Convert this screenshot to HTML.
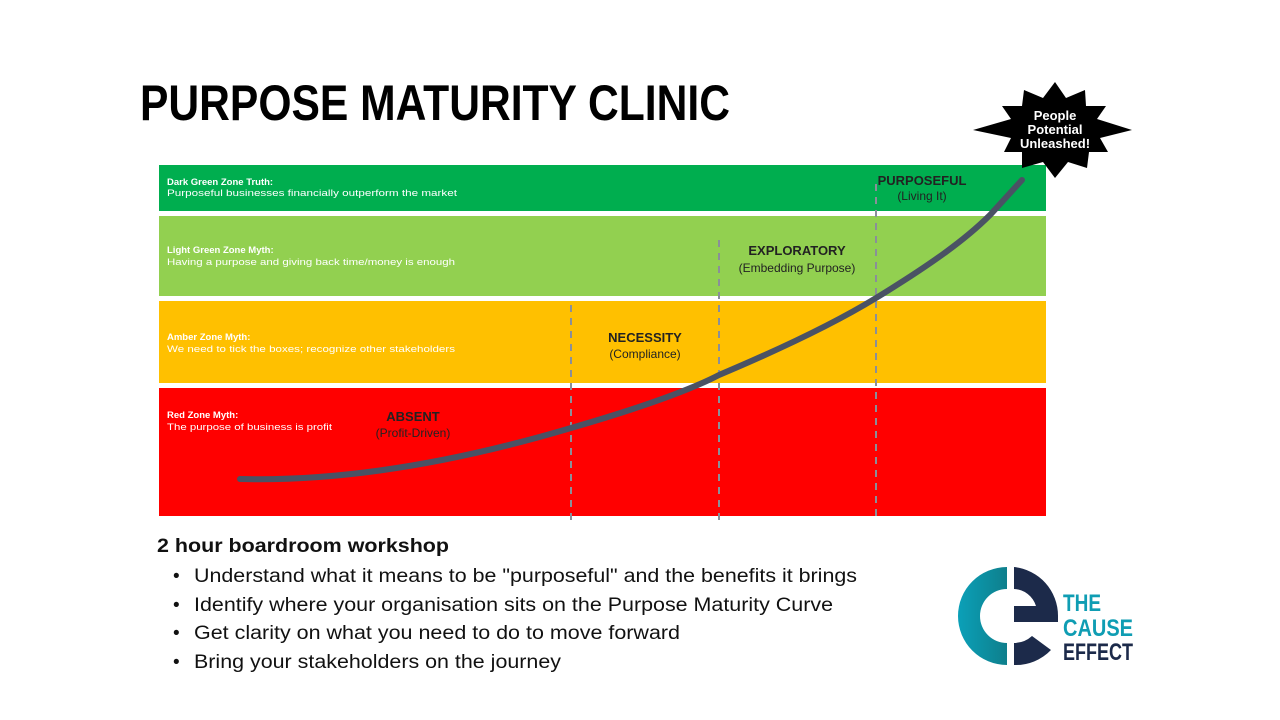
<!DOCTYPE html>
<html><head><meta charset="utf-8"><style>
html,body{margin:0;padding:0;background:#fff;}
body{width:1280px;height:720px;overflow:hidden;position:relative;font-family:"Liberation Sans",sans-serif;}
</style></head><body>
<svg width="1280" height="720" viewBox="0 0 1280 720" xmlns="http://www.w3.org/2000/svg" style="position:absolute;left:0;top:0">
<text x="140" y="120" font-family="Liberation Sans" font-weight="bold" font-size="50" fill="#000" textLength="590" lengthAdjust="spacingAndGlyphs">PURPOSE MATURITY CLINIC</text>
<rect x="159" y="165" width="887" height="46" fill="#00ae4f"/>
<rect x="159" y="216" width="887" height="80" fill="#92d050"/>
<rect x="159" y="301" width="887" height="82" fill="#ffc000"/>
<rect x="159" y="388" width="887" height="128" fill="#ff0000"/>
<g font-family="Liberation Sans" font-size="9.5" fill="#fff">
<text x="167" y="185" font-weight="bold">Dark Green Zone Truth:</text>
<text x="167" y="196" textLength="290" lengthAdjust="spacingAndGlyphs">Purposeful businesses financially outperform the market</text>
<text x="167" y="253" font-weight="bold">Light Green Zone Myth:</text>
<text x="167" y="265" textLength="288" lengthAdjust="spacingAndGlyphs">Having a purpose and giving back time/money is enough</text>
<text x="167" y="340" font-weight="bold">Amber Zone Myth:</text>
<text x="167" y="352" textLength="288" lengthAdjust="spacingAndGlyphs">We need to tick the boxes; recognize other stakeholders</text>
<text x="167" y="418" font-weight="bold">Red Zone Myth:</text>
<text x="167" y="430" textLength="165" lengthAdjust="spacingAndGlyphs">The purpose of business is profit</text>
</g>
<g stroke="#8a8f99" stroke-width="2" stroke-dasharray="7,6">
<line x1="571" y1="305" x2="571" y2="522"/>
<line x1="719" y1="240" x2="719" y2="520"/>
<line x1="876" y1="184" x2="876" y2="518"/>
</g>
<g font-family="Liberation Sans" text-anchor="middle" fill="#222">
<text x="413" y="421" font-size="13" font-weight="bold">ABSENT</text>
<text x="413" y="437" font-size="12">(Profit-Driven)</text>
<text x="645" y="342" font-size="13" font-weight="bold">NECESSITY</text>
<text x="645" y="358" font-size="12">(Compliance)</text>
<text x="797" y="255" font-size="13" font-weight="bold">EXPLORATORY</text>
<text x="797" y="272" font-size="12">(Embedding Purpose)</text>
<text x="922" y="185" font-size="13" font-weight="bold">PURPOSEFUL</text>
<text x="922" y="200" font-size="12">(Living It)</text>
</g>
<path d="M240,479 C360,482 480,455 571,428 C640,408 690,390 719,375 C790,345 840,320 876,298 C930,265 965,240 990,215 L1022,180" fill="none" stroke="#4a5264" stroke-width="6" stroke-linecap="round"/>
<polygon fill="#000" points="1055,82 1066,98 1085,90 1086,106 1106,106 1097,119 1132,130 1100,138 1108,152 1089,152 1087,168 1068,162 1055,178 1043,162 1022,168 1022,152 1004,152 1011,138 973,130 1011,119 1002,106 1022,106 1024,90 1043,98"/>
<g font-family="Liberation Sans" font-weight="bold" font-size="13" fill="#fff" text-anchor="middle">
<text x="1055" y="120">People</text>
<text x="1055" y="134">Potential</text>
<text x="1055" y="148">Unleashed!</text>
</g>
<text x="157" y="552" font-family="Liberation Sans" font-weight="bold" font-size="19" fill="#111" textLength="292" lengthAdjust="spacingAndGlyphs">2 hour boardroom workshop</text>
<g font-family="Liberation Sans" font-size="19" fill="#111">
<text x="173" y="582">•</text><text x="194" y="582" textLength="663" lengthAdjust="spacingAndGlyphs">Understand what it means to be "purposeful" and the benefits it brings</text>
<text x="173" y="611">•</text><text x="194" y="611" textLength="639" lengthAdjust="spacingAndGlyphs">Identify where your organisation sits on the Purpose Maturity Curve</text>
<text x="173" y="639">•</text><text x="194" y="639" textLength="486" lengthAdjust="spacingAndGlyphs">Get clarity on what you need to do to move forward</text>
<text x="173" y="668">•</text><text x="194" y="668" textLength="367" lengthAdjust="spacingAndGlyphs">Bring your stakeholders on the journey</text>
</g>
<defs><linearGradient id="tg" x1="0" x2="1"><stop offset="0" stop-color="#0ba0b8"/><stop offset="1" stop-color="#0e7f8c"/></linearGradient></defs>
<path d="M1007,567 A49,49 0 0 0 1007,665 L1007,643 A27,27 0 0 1 1007,589 Z" fill="url(#tg)"/>
<path d="M1014,567 A49,49 0 0 1 1058,616 L1058,622 L1014,622 L1014,606 L1036,606 A24,24 0 0 0 1014,589 Z M1014,643 A27,27 0 0 0 1032,636 L1051,650 A49,49 0 0 1 1014,665 Z" fill="#1c2a4a"/>
<g font-family="Liberation Sans" font-weight="bold" font-size="24">
<text x="1063" y="611" fill="#0f9db3" textLength="38" lengthAdjust="spacingAndGlyphs">THE</text>
<text x="1063" y="636" fill="#0f9db3" textLength="70" lengthAdjust="spacingAndGlyphs">CAUSE</text>
<text x="1063" y="660" fill="#1c2a4a" textLength="70" lengthAdjust="spacingAndGlyphs">EFFECT</text>
</g>
</svg>
</body></html>
